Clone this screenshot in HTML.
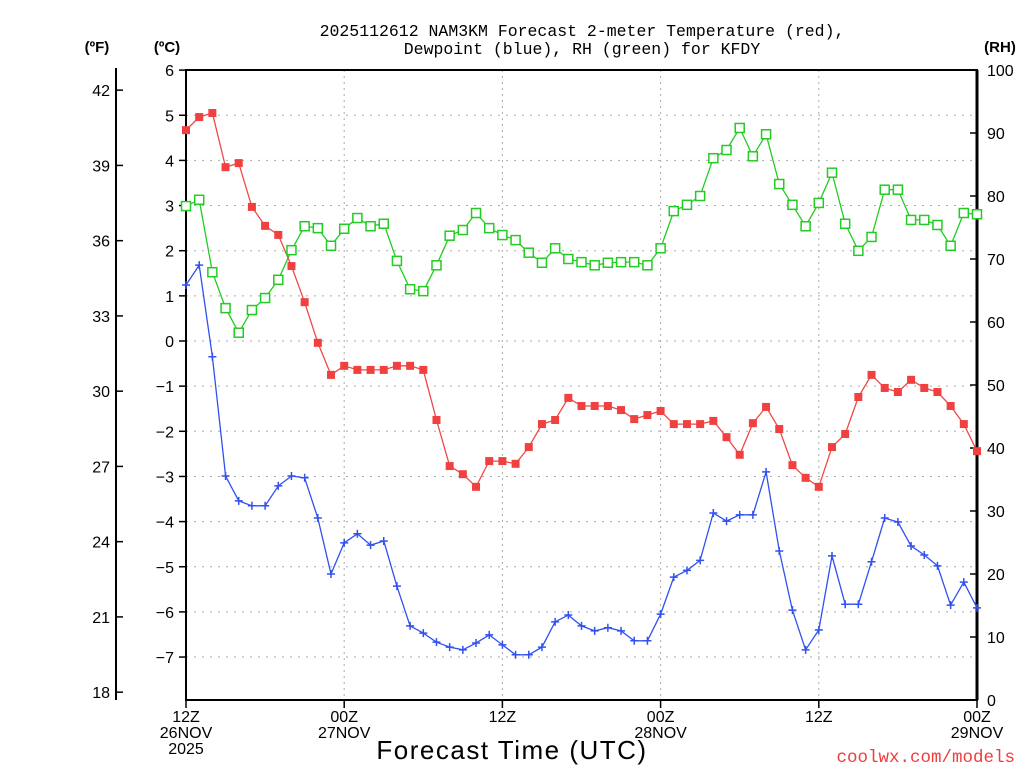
<!DOCTYPE html>
<html><head><meta charset="utf-8"><style>
html,body{margin:0;padding:0;background:#fff;}
svg{display:block;font-family:"Liberation Sans","DejaVu Sans",sans-serif;}
</style></head><body>
<svg id="chart" width="1024" height="768" viewBox="0 0 1024 768" xmlns="http://www.w3.org/2000/svg">
<rect width="1024" height="768" fill="#fff"/>
<text x="582" y="36" font-size="16.5" font-family="Liberation Mono, monospace" text-anchor="middle">2025112612 NAM3KM Forecast 2-meter Temperature (red),</text>
<text x="582" y="54" font-size="16.5" font-family="Liberation Mono, monospace" text-anchor="middle">Dewpoint (blue), RH (green) for KFDY</text>
<text x="97" y="52" font-size="15" font-weight="bold" text-anchor="middle">(ºF)</text>
<text x="167" y="52" font-size="15" font-weight="bold" text-anchor="middle">(ºC)</text>
<text x="1000" y="52" font-size="15" font-weight="bold" text-anchor="middle">(RH)</text>
<text x="512" y="759" font-size="26" letter-spacing="1.5" text-anchor="middle">Forecast Time (UTC)</text>
<text x="1015" y="762" font-size="17.5" font-family="Liberation Mono, monospace" fill="#f03c3c" text-anchor="end">coolwx.com/models</text>
<g id="grid"></g><g id="axes"></g><g id="series"></g>
</svg>
<script>
const hours = Array.from({length:61},(_,i)=>i);
const tempC = [4.67,4.96,5.05,3.85,3.94,2.97,2.55,2.35,1.66,0.86,-0.04,-0.75,-0.55,-0.64,-0.64,-0.64,-0.55,-0.55,-0.64,-1.75,-2.77,-2.95,-3.23,-2.66,-2.66,-2.72,-2.35,-1.84,-1.75,-1.26,-1.44,-1.44,-1.44,-1.53,-1.73,-1.64,-1.55,-1.84,-1.84,-1.84,-1.77,-2.13,-2.52,-1.82,-1.46,-1.95,-2.75,-3.03,-3.23,-2.35,-2.06,-1.24,-0.75,-1.04,-1.13,-0.86,-1.04,-1.13,-1.44,-1.84,-2.44];
const dewC = [1.24,1.68,-0.35,-2.99,-3.54,-3.65,-3.65,-3.21,-2.99,-3.03,-3.92,-5.16,-4.47,-4.27,-4.52,-4.43,-5.43,-6.31,-6.47,-6.67,-6.78,-6.84,-6.69,-6.51,-6.73,-6.95,-6.95,-6.78,-6.22,-6.07,-6.31,-6.42,-6.35,-6.42,-6.64,-6.64,-6.05,-5.23,-5.08,-4.86,-3.81,-3.99,-3.85,-3.85,-2.90,-4.65,-5.96,-6.84,-6.40,-4.76,-5.83,-5.83,-4.89,-3.92,-4.01,-4.54,-4.74,-4.98,-5.85,-5.34,-5.91];
const rh = [78.4,79.4,67.9,62.2,58.3,61.9,63.8,66.7,71.4,75.2,74.9,72.1,74.8,76.5,75.2,75.6,69.7,65.2,64.9,69.0,73.7,74.6,77.3,74.9,73.8,73.0,71.0,69.4,71.7,70.0,69.5,69.0,69.4,69.5,69.5,69.0,71.7,77.6,78.6,80.0,86.0,87.3,90.8,86.3,89.8,81.9,78.6,75.2,78.9,83.7,75.6,71.3,73.5,81.0,81.0,76.2,76.2,75.4,72.1,77.3,77.1];
const cTicks = [6,5,4,3,2,1,0,-1,-2,-3,-4,-5,-6,-7];
const fTicks = [42,39,36,33,30,27,24,21,18];
const rhTicks = [0,10,20,30,40,50,60,70,80,90,100];
const xTickHours = [0,12,24,36,48,60];
const xTickLines = [["12Z","26NOV","2025"],["00Z","27NOV"],["12Z"],["00Z","28NOV"],["12Z"],["00Z","29NOV"]];

const X0=186,X1=977,YTOP=70,YBOT=700;
const xS=h=>X0+(X1-X0)*h/60;
const yC=c=>341-45.15*c;
const yR=r=>YBOT-(YBOT-YTOP)*r/100;
const yF=f=>yC((f-32)*5/9);
const NS="http://www.w3.org/2000/svg";
function mk(tag,attrs,parent,txt){const e=document.createElementNS(NS,tag);for(const k in attrs)e.setAttribute(k,attrs[k]);if(txt!==undefined)e.textContent=txt;parent.appendChild(e);return e;}
const grid=document.getElementById('grid'),axes=document.getElementById('axes'),ser=document.getElementById('series');

cTicks.forEach(c=>{
  const g=mk('line',{x1:X0,x2:X1,y1:yC(c),y2:yC(c),stroke:'#aaa','stroke-width':1,'stroke-dasharray':'2,6'},grid);
  
  
  const t=mk('line',{x1:X0-7,x2:X0,y1:yC(c),y2:yC(c),stroke:'#000','stroke-width':1.5},axes);
  
  
  const l=mk('text',{x:X0-12,y:yC(c)+6,'font-size':16,'text-anchor':'end'},axes,(c<0?'\u2212':'')+Math.abs(c));
  
  
});
xTickHours.forEach((h,i)=>{
  if(h>0&&h<60){const g=mk('line',{x1:xS(h),x2:xS(h),y1:YTOP,y2:YBOT,stroke:'#aaa','stroke-width':1,'stroke-dasharray':'2,4'},grid);
  
  }
  const t=mk('line',{x1:xS(h),x2:xS(h),y1:YBOT,y2:YBOT+8,stroke:'#000','stroke-width':1.5},axes);
  
  
  xTickLines[i].forEach((s,j)=>{
    const l=mk('text',{x:xS(h),y:722+j*16,'font-size':16,'text-anchor':'middle'},axes,s);
    
    
  });
});
fTicks.forEach(f=>{
  const t=mk('line',{x1:116,x2:123,y1:yF(f),y2:yF(f),stroke:'#000','stroke-width':1.5},axes);
  
  
  const l=mk('text',{x:110,y:yF(f)+6,'font-size':16,'text-anchor':'end'},axes,String(f));
  
  
});
rhTicks.forEach(r=>{
  const t=mk('line',{x1:X1-7,x2:X1,y1:yR(r),y2:yR(r),stroke:'#000','stroke-width':1.5},axes);
  
  
  const l=mk('text',{x:987,y:yR(r)+6,'font-size':16,'text-anchor':'start'},axes,String(r));
  
  
});
const fa=mk('line',{x1:116,x2:116,y1:68,y2:700,stroke:'#000','stroke-width':2},axes);


const fr=mk('rect',{x:X0,y:YTOP,width:X1-X0,height:YBOT-YTOP,fill:'none',stroke:'#000','stroke-width':2},axes);


const ra=mk('line',{x1:X1,x2:X1,y1:YTOP,y2:YBOT,stroke:'#000','stroke-width':3},axes);



function line(vals,yf,color,name){
  const pts=vals.map((v,i)=>xS(hours[i]).toFixed(1)+','+yf(v).toFixed(1)).join(' ');
  const p=mk('polyline',{points:pts,fill:'none',stroke:color,'stroke-width':1.3},ser);
  
  
}
line(rh,yR,'#22cc22','rh-line');
line(tempC,yC,'#f04848','temperature-line');
line(dewC,yC,'#3050f0','dewpoint-line');
rh.forEach((v,i)=>{
  const m=mk('rect',{x:xS(hours[i])-4.5,y:yR(v)-4.5,width:9,height:9,fill:'#fff',stroke:'#22cc22','stroke-width':1.5},ser);
  
  
});
tempC.forEach((v,i)=>{
  const m=mk('rect',{x:xS(hours[i])-4,y:yC(v)-4,width:8,height:8,fill:'#f04040'},ser);
  
  
});
dewC.forEach((v,i)=>{
  const x=xS(hours[i]),y=yC(v);
  const m=mk('path',{d:`M${x-4},${y}H${x+4}M${x},${y-4}V${y+4}`,stroke:'#3050f0','stroke-width':1.5},ser);
  
  
});
</script>
</body></html>
